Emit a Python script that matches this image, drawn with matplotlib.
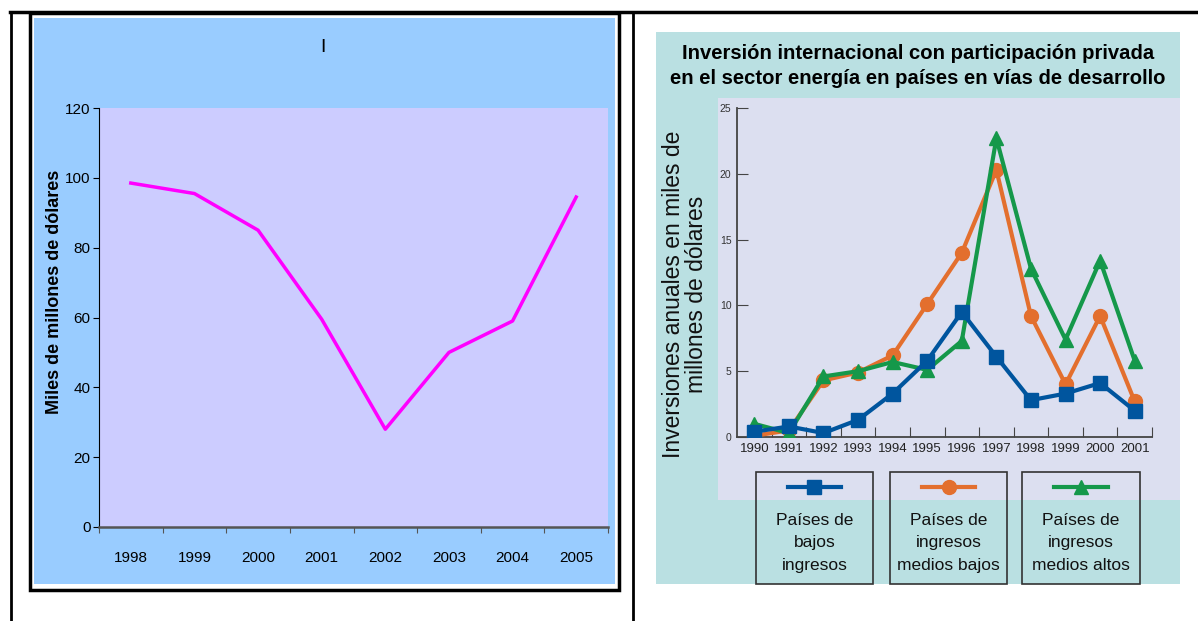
import numpy as np
import matplotlib
matplotlib.use("Agg")
import matplotlib.pyplot as plt
from matplotlib.patches import Rectangle
from matplotlib.lines import Line2D
from matplotlib import font_manager

# fuentes
nombres = {f.name for f in font_manager.fontManager.ttflist}
narrow = "Liberation Sans Narrow" if "Liberation Sans Narrow" in nombres else "Liberation Sans"
plt.rcParams['font.family'] = ['Liberation Sans', 'DejaVu Sans']

# Datos grafico izquierdo
anios_izq = ['1998', '1999', '2000', '2001', '2002', '2003', '2004', '2005']
miles_millones = [98.5, 95.5, 85, 59.5, 28, 50, 59, 94.5]

# Datos grafico derecho
anios_der = ['1990', '1991', '1992', '1993', '1994', '1995', '1996', '1997',
             '1998', '1999', '2000', '2001']
bajos = [0.4, 0.8, 0.3, 1.3, 3.3, 5.8, 9.5, 6.1, 2.8, 3.3, 4.1, 2.0]
medios_bajos = [0.1, 0.5, 4.3, 4.9, 6.2, 10.1, 14.0, 20.3, 9.2, 4.0, 9.2, 2.7]
medios_altos = [1.0, 0.3, 4.6, 5.0, 5.7, 5.1, 7.3, 22.7, 12.8, 7.4, 13.4, 5.8]
series = ['Países de\nbajos\ningresos', 'Países de\ningresos\nmedios bajos',
          'Países de\ningresos\nmedios altos']

W, H = 1198, 621
fig = plt.figure(figsize=(W / 100, H / 100), dpi=100)
fig.patch.set_facecolor('white')

def fx(x):
    return x / W

def fy(y):
    return 1 - y / H

def caja(x0, y0, x1, y1):
    return [x0 / W, 1 - y1 / H, (x1 - x0) / W, (y1 - y0) / H]

def rect(x0, y0, x1, y1, z=-2, **kw):
    r = Rectangle((x0 / W, 1 - y1 / H), (x1 - x0) / W, (y1 - y0) / H,
                  transform=fig.transFigure, zorder=z, **kw)
    fig.add_artist(r)

def linea(xs, ys, **kw):
    fig.add_artist(Line2D([fx(x) for x in xs], [fy(y) for y in ys],
                          transform=fig.transFigure, **kw))

# lineas de la tabla
linea([10, 1198], [12, 12], color='black', lw=2.5, zorder=5)
linea([11, 11], [12, 621], color='black', lw=2, zorder=5)
linea([633, 633], [12, 621], color='black', lw=2, zorder=5)

# ---- grafico izquierdo ----
rect(30, 13, 619, 590, z=-3, facecolor='white', edgecolor='black', lw=2.5)
rect(34, 18, 615, 584, z=-2, facecolor='#99CCFF', edgecolor='none')

ax1 = fig.add_axes(caja(99, 108, 608, 527))
ax1.set_facecolor('#CCCCFF')
ax1.plot(range(len(anios_izq)), miles_millones, color='#FF00FF', lw=2.5)
ax1.set_xlim(-0.5, len(anios_izq) - 0.5)
ax1.set_ylim(0, 120)
ax1.set_yticks(np.arange(0, 121, 20))
ax1.set_xticks(np.arange(-0.5, len(anios_izq)), [''] * (len(anios_izq) + 1))
ax1.set_xticks(range(len(anios_izq)), anios_izq, minor=True)
ax1.tick_params(axis='x', which='major', direction='out', length=4, color='#555555')
ax1.tick_params(axis='x', which='minor', length=0, pad=17)
ax1.tick_params(axis='y', direction='out', length=4, pad=2)
for t in ax1.get_xticklabels(minor=True) + ax1.get_yticklabels():
    t.set_fontfamily(narrow)
    t.set_fontsize(11)
for s in ['top', 'right']:
    ax1.spines[s].set_visible(False)
ax1.spines['bottom'].set_color('#555555')
ax1.spines['bottom'].set_linewidth(1.8)
ax1.spines['left'].set_color('black')

fig.text(fx(323), fy(48), 'I', fontsize=14, ha='center', va='center')
fig.text(fx(55), fy(292), 'Miles de millones de dólares', rotation=90,
         fontsize=13, fontweight='bold', ha='center', va='center')

# ---- grafico derecho ----
rect(656, 32, 1180, 584, z=-2, facecolor='#BAE0E2', edgecolor='none')
rect(718, 98, 1180, 500, z=-1, facecolor='#DCDFF0', edgecolor='none')

fig.text(fx(918), fy(66), 'Inversión internacional con participación privada\n'
         'en el sector energía en países en vías de desarrollo',
         fontsize=14.6, fontweight='bold', ha='center', va='center', linespacing=1.4)

ax2 = fig.add_axes(caja(737, 108, 1152, 437))
ax2.set_facecolor('none')
colores = ['#00559E', '#E36F2E', '#15984A']
marcadores = ['s', 'o', '^']
x = np.arange(len(anios_der))
for datos, c, m in zip([bajos, medios_bajos, medios_altos], colores, marcadores):
    ax2.plot(x, datos, color=c, lw=3, marker=m, markersize=10, zorder=3)
# la serie azul se dibuja encima
ax2.lines[0].set_zorder(4)
ax2.set_xlim(-0.5, len(anios_der) - 0.5)
ax2.set_ylim(0, 25)
ax2.set_yticks(np.arange(0, 26, 5))
ax2.set_xticks(np.arange(0.5, len(anios_der)), [''] * len(anios_der))
ax2.set_xticks(x, anios_der, minor=True)
ax2.tick_params(axis='x', which='major', direction='in', length=7, color='#444444')
ax2.tick_params(axis='x', which='minor', length=0, pad=4, labelsize=9.5, labelcolor='#222222')
ax2.tick_params(axis='y', direction='in', length=8, color='#444444', pad=4,
                labelsize=7.5, labelcolor='#333333')
for s in ['top', 'right']:
    ax2.spines[s].set_visible(False)
for s in ['left', 'bottom']:
    ax2.spines[s].set_color('#444444')
    ax2.spines[s].set_linewidth(1.3)

fig.text(fx(685), fy(294), 'Inversiones anuales en miles de\nmillones de dólares',
         rotation=90, fontsize=16.5, ha='center', va='center', linespacing=0.95,
         color='#111111')

# leyenda en cajas
cajas = [(756, 873), (890, 1007), (1022, 1140)]
for (x0, x1), c, m, nombre in zip(cajas, colores, marcadores, series):
    rect(x0, 472, x1, 584, z=5, facecolor='none', edgecolor='#333333', lw=1.2)
    linea([x0 + 32, x1 - 32], [487, 487], color=c, lw=3, zorder=6)
    linea([(x0 + x1) / 2], [487], color=c, marker=m, markersize=10, lw=0, zorder=6)
    fig.text(fx((x0 + x1) / 2), fy(543), nombre, fontsize=12.5, ha='center',
             va='center', linespacing=1.6, color='#111111')

fig.savefig('out.png', dpi=100)
